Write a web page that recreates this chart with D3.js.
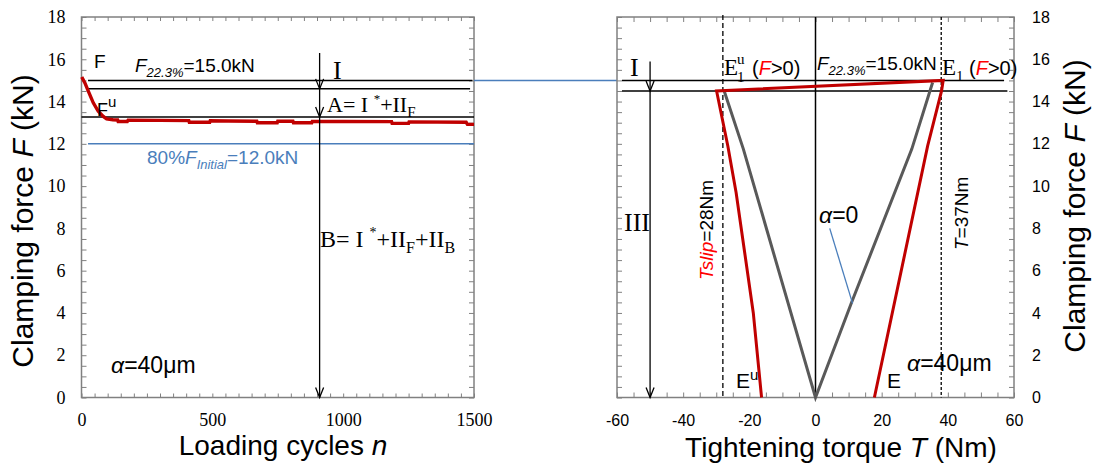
<!DOCTYPE html>
<html>
<head>
<meta charset="utf-8">
<script src="https://cdn.jsdelivr.net/npm/d3@7"></script>
<style>
  html, body { margin: 0; padding: 0; background: #fff; }
  svg { display: block; }
</style>
</head>
<body>
<svg id="chart" width="1094" height="466"></svg>
<script>
// ticks
const forceTicks = d3.range(0, 19, 2)
const forceMinor = d3.range(0, 18.01, 0.5)
const cycleTicks = [0, 500, 1000, 1500]
const cycleMinor = d3.range(0, 1501, 50)
const torqueTicks = d3.range(-60, 61, 20)
const torqueMinor = d3.range(-60, 61, 5)

// left: clamping force vs loading cycles (alpha = 40um)
const cyclesN = [1, 13, 26, 45, 64, 83, 96, 120, 138, 140, 175, 178, 300, 410, 412, 490, 492, 560, 670, 672, 748, 750, 808, 810, 880, 882, 1000, 1185, 1187, 1250, 1252, 1470, 1475, 1500]
const cyclesF = [15.16, 14.88, 14.49, 13.94, 13.54, 13.30, 13.18, 13.14, 13.13, 13.06, 13.06, 13.12, 13.11, 13.10, 13.02, 13.02, 13.09, 13.08, 13.07, 13.0, 13.0, 13.07, 13.07, 13.0, 13.0, 13.06, 13.06, 13.05, 12.97, 12.97, 13.04, 13.02, 12.92, 12.92]

// right: force vs tightening torque
const torqueGrey = [-27.6, -21.8, 0, 10.9, 29.1, 35.4]
const forceGrey = [14.5, 11.75, 0, 4.49, 11.75, 14.9]
const torqueRed = [-16.3, -18.8, -24.0, -26.5, -29.9, 38.6, 38.1, 33.9, 17.8]
const forceRed = [0, 4.0, 9.7, 11.9, 14.5, 15.0, 14.5, 11.9, 0]

const fInitial80 = 12.0
const f223 = 15.0
const arrowCycle = 910
const leftArrowF = [16.3, 14.6, 13.27, 0]
const rightArrowT = -50
const rightArrowF = [15.9, 14.5, 0]
const tSlip = -28
const tMax = 38
const pointerT = [4.3, 11.2]
const pointerF = [8.0, 4.45]

const RED = '#c00000'
const GREY = '#595959'
const BLUE = '#4a7ebb'
const FRAME = '#808080'
const SANS = "'Liberation Sans', Arial, sans-serif"
const SERIF = "'Liberation Serif', 'Times New Roman', serif"

const svg = d3.select('#chart')

const y = d3.scaleLinear().domain([0, 18]).range([397.5, 17])
const xL = d3.scaleLinear().domain([0, 1500]).range([81.5, 474])
const xR = d3.scaleLinear().domain([-60, 60]).range([617, 1014])
const plain = (d) => String(d)

const rich = (g, x, yy, parts, base) => {
	const t = g.append('text').attr('x', x).attr('y', yy)
		.attr('font-family', base.family || SANS).attr('font-size', base.size).attr('fill', base.fill || '#000')
	parts.forEach((p) => {
		const s = t.append('tspan').text(p.t)
		if (p.i) s.attr('font-style', 'italic')
		if (p.fill) s.attr('fill', p.fill)
		if (p.size) s.attr('font-size', p.size)
		if (p.dy) s.attr('dy', p.dy)
		if (p.family) s.attr('font-family', p.family)
	})
	return t
}

const arrowHead = (g, px, py) => {
	g.append('path').attr('d', `M${px - 4},${py - 10}L${px},${py}L${px + 4},${py - 10}`)
		.attr('fill', 'none').attr('stroke', '#000').attr('stroke-width', 1.3)
}

const styleAxis = (a) => {
	a.select('.domain').remove()
	a.selectAll('.tick line').attr('stroke', FRAME).attr('stroke-width', 1)
}

const frame = (x) => {
	const g = svg.append('g')
	const [x0, x1] = x.range()
	// inward ticks on left and right sides
	g.append('g').attr('transform', `translate(${x0},0)`)
		.call(d3.axisLeft(y).tickValues(forceMinor).tickSize(-5).tickFormat('')).call(styleAxis)
	g.append('g').attr('transform', `translate(${x1},0)`)
		.call(d3.axisRight(y).tickValues(forceMinor).tickSize(-5).tickFormat('')).call(styleAxis)
	return g
}

// ---------- left panel ----------
const gL = frame(xL)
gL.append('g').attr('transform', `translate(0,${y(0)})`)
	.call(d3.axisBottom(xL).tickValues(cycleMinor).tickSize(-4).tickFormat('')).call(styleAxis)
gL.append('g').attr('transform', `translate(0,${y(18)})`)
	.call(d3.axisTop(xL).tickValues(cycleMinor).tickSize(-4).tickFormat('')).call(styleAxis)

const axLy = gL.append('g').attr('transform', `translate(${xL(0)},0)`)
	.call(d3.axisLeft(y).tickValues(forceTicks).tickSize(0).tickPadding(16).tickFormat(plain))
axLy.select('.domain').remove()
axLy.selectAll('text').attr('font-family', SERIF).attr('font-size', 18).attr('fill', '#000')

const axLx = gL.append('g').attr('transform', `translate(0,${y(0)})`)
	.call(d3.axisBottom(xL).tickValues(cycleTicks).tickSize(0).tickPadding(16).tickFormat(plain))
axLx.select('.domain').remove()
axLx.selectAll('text').attr('font-family', SERIF).attr('font-size', 18).attr('fill', '#000')

gL.append('rect').attr('x', xL(0)).attr('y', y(18)).attr('width', xL(1500) - xL(0)).attr('height', y(0) - y(18))
	.attr('fill', 'none').attr('stroke', FRAME).attr('stroke-width', 1.5)

// reference lines
gL.append('line').attr('x1', xL(25)).attr('x2', xL(1494)).attr('y1', y(f223)).attr('y2', y(f223)).attr('stroke', '#000').attr('stroke-width', 1.5)
gL.append('line').attr('x1', xL(25)).attr('x2', xL(1485)).attr('y1', y(14.6)).attr('y2', y(14.6)).attr('stroke', '#000').attr('stroke-width', 1.5)
gL.append('line').attr('x1', xL(0)).attr('x2', xL(1500)).attr('y1', y(13.27)).attr('y2', y(13.27)).attr('stroke', '#000').attr('stroke-width', 1.5)
gL.append('line').attr('x1', xL(25)).attr('x2', xL(1500)).attr('y1', y(fInitial80)).attr('y2', y(fInitial80)).attr('stroke', BLUE).attr('stroke-width', 1.5)

const lineL = d3.line().x((d) => xL(d[0])).y((d) => y(d[1]))
gL.append('path').datum(d3.zip(cyclesN, cyclesF)).attr('d', lineL)
	.attr('fill', 'none').attr('stroke', RED).attr('stroke-width', 3.4)

// arrow at n = 910
gL.append('line').attr('x1', xL(arrowCycle)).attr('x2', xL(arrowCycle))
	.attr('y1', y(leftArrowF[0])).attr('y2', y(0)).attr('stroke', '#000').attr('stroke-width', 1.3)
leftArrowF.slice(1).forEach((f) => arrowHead(gL, xL(arrowCycle), y(f)))

rich(gL, 94, 68, [{ t: 'F' }], { size: 19 })
rich(gL, 135, 72, [{ t: 'F', i: true }, { t: '22.3%', i: true, size: 13, dy: 5 }, { t: '=15.0kN', dy: -5 }], { size: 19 })
rich(gL, 333, 79, [{ t: 'I' }], { size: 26, family: SERIF })
rich(gL, 97, 116, [{ t: 'F' }, { t: 'u', size: 15, dy: -9 }], { size: 18 })
rich(gL, 327, 112, [{ t: 'A= I ' }, { t: '*', size: 13, dy: -9 }, { t: '+II', dy: 9 }, { t: 'F', size: 15, dy: 5 }], { size: 22, family: SERIF })
rich(gL, 147, 164, [{ t: '80%' }, { t: 'F', i: true }, { t: 'Initial', i: true, size: 13, dy: 5 }, { t: '=12.0kN', dy: -5 }], { size: 19, fill: BLUE })
rich(gL, 320, 247, [{ t: 'B= I ' }, { t: '*', size: 14, dy: -10 }, { t: '+II', dy: 10 }, { t: 'F', size: 16, dy: 6 }, { t: '+II', dy: -6 }, { t: 'B', size: 16, dy: 6 }], { size: 24, family: SERIF })
rich(gL, 111, 373, [{ t: 'α', i: true }, { t: '=40μm' }], { size: 23 })

rich(gL, 283, 455, [{ t: 'Loading cycles ' }, { t: 'n', i: true }], { size: 28 }).attr('text-anchor', 'middle')
rich(gL, 33, 221, [{ t: 'Clamping force ' }, { t: 'F', i: true }, { t: ' (kN)' }], { size: 30 })
	.attr('text-anchor', 'middle').attr('transform', 'rotate(-90,33,221)')

// connector between panels
svg.append('line').attr('x1', xL(1500)).attr('x2', xR(-60)).attr('y1', y(f223)).attr('y2', y(f223))
	.attr('stroke', BLUE).attr('stroke-width', 1.5)

// ---------- right panel ----------
const gR = frame(xR)
gR.append('g').attr('transform', `translate(0,${y(0)})`)
	.call(d3.axisBottom(xR).tickValues(torqueMinor).tickSize(-5).tickFormat('')).call(styleAxis)
gR.append('g').attr('transform', `translate(0,${y(18)})`)
	.call(d3.axisTop(xR).tickValues(torqueMinor).tickSize(-5).tickFormat('')).call(styleAxis)

const axRy = gR.append('g').attr('transform', `translate(${xR(60)},0)`)
	.call(d3.axisRight(y).tickValues(forceTicks).tickSize(0).tickPadding(18).tickFormat(plain))
axRy.select('.domain').remove()
axRy.selectAll('text').attr('font-family', SANS).attr('font-size', 16).attr('fill', '#000')

const axRx = gR.append('g').attr('transform', `translate(0,${y(0)})`)
	.call(d3.axisBottom(xR).tickValues(torqueTicks).tickSize(0).tickPadding(17).tickFormat(plain))
axRx.select('.domain').remove()
axRx.selectAll('text').attr('font-family', SANS).attr('font-size', 16).attr('fill', '#000')

gR.append('rect').attr('x', xR(-60)).attr('y', y(18)).attr('width', xR(60) - xR(-60)).attr('height', y(0) - y(18))
	.attr('fill', 'none').attr('stroke', FRAME).attr('stroke-width', 1.5)

gR.append('line').attr('x1', xR(-58.5)).attr('x2', xR(57)).attr('y1', y(f223)).attr('y2', y(f223)).attr('stroke', '#000').attr('stroke-width', 1.5)
gR.append('line').attr('x1', xR(-58.5)).attr('x2', xR(58)).attr('y1', y(14.5)).attr('y2', y(14.5)).attr('stroke', '#000').attr('stroke-width', 1.5)
gR.append('line').attr('x1', xR(0)).attr('x2', xR(0)).attr('y1', y(18)).attr('y2', y(0)).attr('stroke', '#000').attr('stroke-width', 1.5)
gR.append('line').attr('x1', xR(tSlip)).attr('x2', xR(tSlip)).attr('y1', y(18.1)).attr('y2', y(0)).attr('stroke', '#000')
	.attr('stroke-width', 1.3).attr('stroke-dasharray', '5,3')
gR.append('line').attr('x1', xR(tMax)).attr('x2', xR(tMax)).attr('y1', y(18)).attr('y2', y(0)).attr('stroke', '#000')
	.attr('stroke-width', 1.3).attr('stroke-dasharray', '3,2')

const lineR = d3.line().x((d) => xR(d[0])).y((d) => y(d[1]))
gR.append('path').datum(d3.zip(torqueGrey, forceGrey)).attr('d', lineR)
	.attr('fill', 'none').attr('stroke', GREY).attr('stroke-width', 3)
gR.append('path').datum(d3.zip(torqueRed, forceRed)).attr('d', lineR)
	.attr('fill', 'none').attr('stroke', RED).attr('stroke-width', 3).attr('stroke-linejoin', 'miter')

gR.append('line').attr('x1', xR(rightArrowT)).attr('x2', xR(rightArrowT))
	.attr('y1', y(rightArrowF[0])).attr('y2', y(0)).attr('stroke', '#000').attr('stroke-width', 1.3)
rightArrowF.slice(1).forEach((f) => arrowHead(gR, xR(rightArrowT), y(f)))

gR.append('path').datum(d3.zip(pointerT, pointerF)).attr('d', lineR)
	.attr('fill', 'none').attr('stroke', BLUE).attr('stroke-width', 1.3)

rich(gR, 630, 76, [{ t: 'I' }], { size: 26, family: SERIF })
rich(gR, 724, 75, [{ t: 'E' }], { size: 23, family: SERIF })
rich(gR, 737, 82, [{ t: '1' }], { size: 15, family: SERIF })
rich(gR, 737, 64, [{ t: 'u' }], { size: 15, family: SERIF })
rich(gR, 752, 75, [{ t: '(' }, { t: 'F', i: true, fill: 'red' }, { t: '>0)' }], { size: 20 })
rich(gR, 817, 70, [{ t: 'F', i: true }, { t: '22.3%', i: true, size: 13, dy: 5 }, { t: '=15.0kN', dy: -5 }], { size: 19 })
rich(gR, 942, 75, [{ t: 'E' }, { t: '1', size: 15, dy: 6 }], { size: 23, family: SERIF })
rich(gR, 969, 75, [{ t: '(' }, { t: 'F', i: true, fill: 'red' }, { t: '>0)' }], { size: 20 })
rich(gR, 624, 231, [{ t: 'III' }], { size: 26, family: SERIF })
rich(gR, 713, 280, [{ t: 'Tslip', i: true, fill: 'red' }, { t: '=28Nm' }], { size: 19 })
	.attr('transform', 'rotate(-90,713,280)')
rich(gR, 968, 250, [{ t: 'T', i: true }, { t: '=37Nm' }], { size: 19 })
	.attr('transform', 'rotate(-90,968,250)')
rich(gR, 819, 223, [{ t: 'α', i: true }, { t: '=0' }], { size: 23 })
rich(gR, 736, 388, [{ t: 'E' }, { t: 'u', size: 15, dy: -8 }], { size: 21 })
rich(gR, 887, 388, [{ t: 'E' }], { size: 21 })
rich(gR, 907, 371, [{ t: 'α', i: true }, { t: '=40μm' }], { size: 23 })

rich(gR, 841, 457, [{ t: 'Tightening torque ' }, { t: 'T', i: true }, { t: ' (Nm)' }], { size: 28 }).attr('text-anchor', 'middle')
rich(gR, 1085, 206, [{ t: 'Clamping force ' }, { t: 'F', i: true }, { t: ' (kN)' }], { size: 30 })
	.attr('text-anchor', 'middle').attr('transform', 'rotate(-90,1085,206)')
</script>
</body>
</html>
